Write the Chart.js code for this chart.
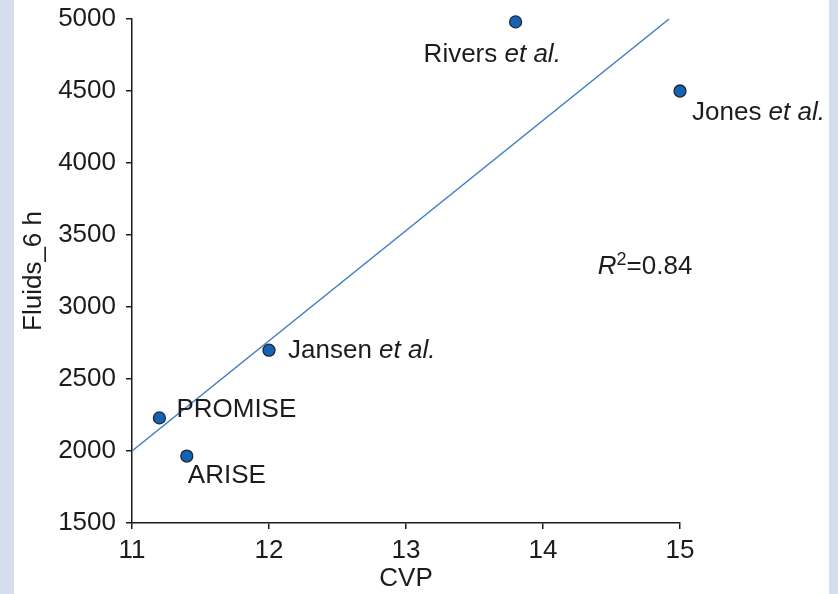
<!DOCTYPE html>
<html>
<head>
<meta charset="utf-8">
<script src="https://cdn.jsdelivr.net/npm/chart.js@4.4.1/dist/chart.umd.min.js"></script>
<style>
  html, body { margin: 0; padding: 0; }
  body { width: 838px; height: 594px; background: #d5deef; position: relative; overflow: hidden; }
  #panel { position: absolute; left: 14px; top: 0; width: 815px; height: 594px; background: #ffffff; }
  #wrap { position: absolute; left: 0; top: 0; width: 838px; height: 594px; }
</style>
</head>
<body>
<div id="panel"></div>
<div id="wrap"><canvas id="cvpChart" width="838" height="594"></canvas></div>
<script>
// study data
const studies = ['Rivers', 'Jones', 'Jansen', 'PROMISE', 'ARISE'];
const etAl = [true, true, true, false, false];
const cvp = [13.8, 15, 12, 11.2, 11.4];
const fluids6h = [4980, 4500, 2700, 2230, 1965];

// fitted line end points
const fitX = [11, 14.92];
const fitY = [2000, 5000];
const rSquared = '0.84';
const r2Pos = { x: 14.4, y: 3280 };

const xTicks = [11, 12, 13, 14, 15];
const yTicks = [1500, 2000, 2500, 3000, 3500, 4000, 4500, 5000];

const FONT = '"Liberation Sans", Arial, Helvetica, sans-serif';
const TEXT = '#1e1b1c';
const SIZE = 26;

// label offsets in pixels from each point (layout only)
const labelOffset = [[-92, 33], [12, 22], [19, 1], [17, -8], [1, 20]];

const labelsPlugin = {
    id: 'studyLabels',
    afterDatasetsDraw(chart) {
        const ctx = chart.ctx;
        const meta = chart.getDatasetMeta(1);
        ctx.save();
        ctx.fillStyle = TEXT;
        ctx.textBaseline = 'middle';
        ctx.textAlign = 'left';
        meta.data.forEach((pt, i) => {
            let x = pt.x + labelOffset[i][0];
            const y = pt.y + labelOffset[i][1];
            const name = etAl[i] ? studies[i] + ' ' : studies[i];
            ctx.font = SIZE + 'px ' + FONT;
            ctx.fillText(name, x, y);
            if (etAl[i]) {
                x += ctx.measureText(name).width;
                ctx.font = 'italic ' + SIZE + 'px ' + FONT;
                ctx.fillText('et al.', x, y);
            }
        });

        // R² annotation
        let x = chart.scales.x.getPixelForValue(r2Pos.x);
        const y = chart.scales.y.getPixelForValue(r2Pos.y);
        ctx.font = 'italic ' + SIZE + 'px ' + FONT;
        ctx.fillText('R', x, y);
        x += ctx.measureText('R').width;
        ctx.font = '18px ' + FONT;
        ctx.fillText('2', x, y - 7);
        x += ctx.measureText('2').width;
        ctx.font = SIZE + 'px ' + FONT;
        ctx.fillText('=' + rSquared, x, y);
        ctx.restore();
    }
};

const ctx = document.getElementById('cvpChart').getContext('2d');
new Chart(ctx, {
    type: 'scatter',
    data: {
        datasets: [{
            type: 'line',
            data: fitX.map((x, i) => ({ x: x, y: fitY[i] })),
            borderColor: '#4080c6',
            borderWidth: 1.6,
            pointRadius: 0,
            fill: false,
            clip: false,
            order: 2
        }, {
            data: cvp.map((x, i) => ({ x: x, y: fluids6h[i] })),
            backgroundColor: '#1763b3',
            borderColor: '#1d2836',
            borderWidth: 1.3,
            pointRadius: 6,
            clip: false,
            order: 1
        }]
    },
    options: {
        responsive: false,
        animation: false,
        layout: { padding: { left: 0, right: 158, top: 19, bottom: 0 } },
        plugins: { legend: { display: false }, tooltip: { enabled: false } },
        scales: {
            x: {
                type: 'linear',
                min: 11,
                max: 15,
                afterBuildTicks: s => { s.ticks = xTicks.map(v => ({ value: v })); },
                afterFit: s => { s.height = 71; },
                border: { display: true, color: TEXT, width: 1.5 },
                grid: { drawOnChartArea: false, drawTicks: true, tickLength: 6, color: TEXT, lineWidth: 1.5 },
                ticks: { color: TEXT, font: { family: FONT, size: SIZE }, padding: 6, maxRotation: 0, callback: v => String(v) },
                title: { display: true, text: 'CVP', color: TEXT, font: { family: FONT, size: SIZE }, padding: { top: 0, bottom: 0 } }
            },
            y: {
                type: 'linear',
                min: 1500,
                max: 5000,
                afterBuildTicks: s => { s.ticks = yTicks.map(v => ({ value: v })); },
                afterFit: s => { s.width = 132; s.paddingTop = 0; s.paddingBottom = 0; },
                border: { display: true, color: TEXT, width: 1.5 },
                grid: { drawOnChartArea: false, drawTicks: true, tickLength: 6, color: TEXT, lineWidth: 1.5 },
                ticks: { color: TEXT, font: { family: FONT, size: SIZE }, padding: 10, callback: v => String(v) },
                title: { display: true, text: 'Fluids_6 h', color: TEXT, font: { family: FONT, size: SIZE }, padding: { top: 18, bottom: 0 } }
            }
        }
    },
    plugins: [labelsPlugin]
});
</script>
</body>
</html>
